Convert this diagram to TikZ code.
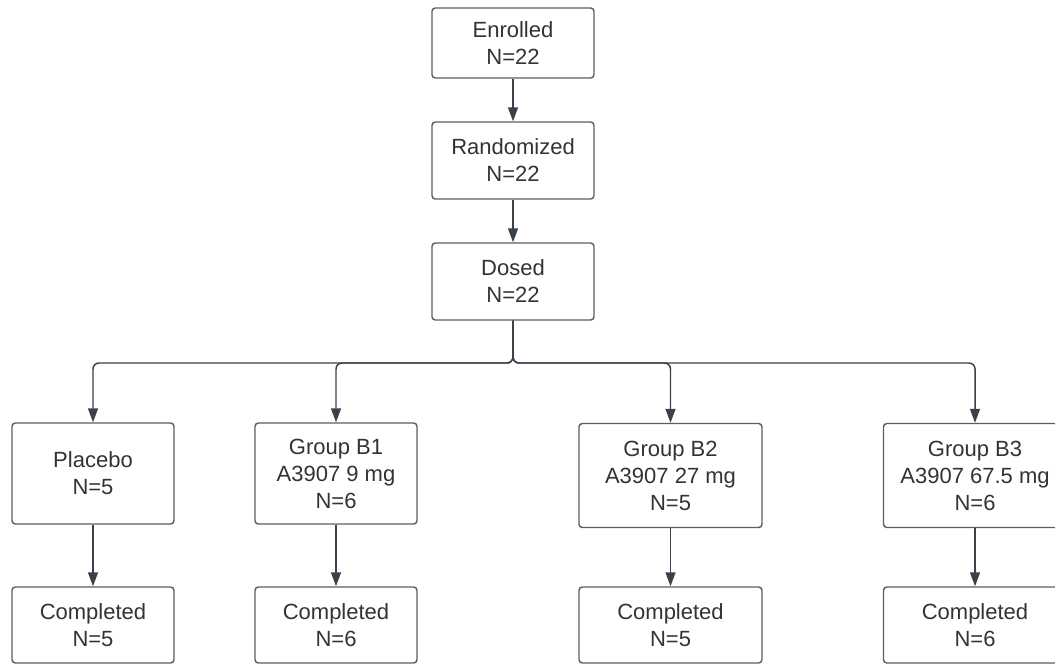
\documentclass[tikz,border=0pt]{standalone}
\usepackage{fontspec}
\setmainfont{Liberation Sans}
\usetikzlibrary{arrows.meta}

\definecolor{boxline}{RGB}{94,94,94}
\definecolor{arrline}{RGB}{58,65,74}
\definecolor{txt}{RGB}{51,51,51}

\tikzset{every picture/.style={line width=0.75pt}}

\begin{document}
\begin{tikzpicture}[x=0.75pt,y=0.75pt,yscale=-1,xscale=1,
  box/.style={draw=boxline, line width=1.1pt, rounded corners=2.5pt, fill=white, align=center, text=txt,
    minimum width=121.5pt, inner sep=0pt, font=\fontsize{16.5}{20.25}\selectfont},
  wide/.style={minimum width=137.25pt},
  conn/.style={draw=arrline, line width=1.1pt, -{Triangle[length=10.5pt,width=7.5pt]}},
]
%set diagram left start at 0, and has height of 664
\clip (0,0) rectangle (1055,664);

% Text Node
\node [box, minimum height=52.5pt] (enrolled) at (513,43) {Enrolled\\N=22};
% Text Node
\node [box, minimum height=57.75pt] (randomized) at (513,160.5) {Randomized\\N=22};
% Text Node
\node [box, minimum height=57.75pt] (dosed) at (513,281.5) {Dosed\\N=22};

% Text Node
\node [box, minimum height=75.75pt] (placebo) at (93,473.5) {Placebo\\N=5};
% Text Node
\node [box, minimum height=75.75pt] (groupB1) at (336,473.5) {Group B1\\A3907 9 mg\\N=6};
% Text Node
\node [box, wide, minimum height=78pt] (groupB2) at (670.5,475.5) {Group B2\\A3907 27 mg\\N=5};
% Text Node
\node [box, wide, minimum height=78pt] (groupB3) at (975,475.5) {Group B3\\A3907 67.5 mg\\N=6};

% Text Node
\node [box, minimum height=57pt] (done0) at (93,625) {Completed\\N=5};
% Text Node
\node [box, minimum height=57pt] (done1) at (336,625) {Completed\\N=6};
% Text Node
\node [box, wide, minimum height=57pt] (done2) at (670.5,625) {Completed\\N=5};
% Text Node
\node [box, wide, minimum height=57pt] (done3) at (975,625) {Completed\\N=6};

%Straight Lines
\draw [conn] (enrolled) -- (randomized);
\draw [conn] (randomized) -- (dosed);

%Elbow lines
\coordinate (split) at (513,363);
\foreach \g in {placebo,groupB1,groupB2,groupB3}
  \draw [conn, rounded corners=4.5pt] (dosed) -- (split) -| (\g);

%Straight Lines
\draw [conn] (placebo) -- (done0);
\draw [conn] (groupB1) -- (done1);
\draw [conn] (groupB2) -- (done2);
\draw [conn] (groupB3) -- (done3);

\end{tikzpicture}
\end{document}
